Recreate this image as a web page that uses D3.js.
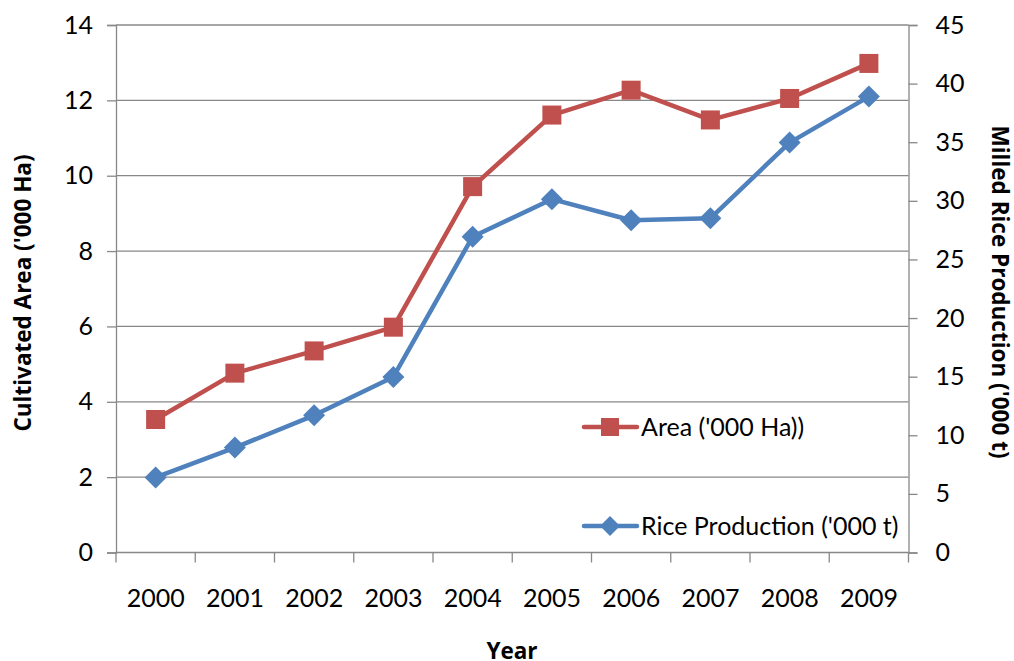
<!DOCTYPE html>
<html>
<head>
<meta charset="utf-8">
<script src="https://cdn.jsdelivr.net/npm/d3@7"></script>
<style>
  html, body { margin: 0; padding: 0; background: #fff; }
  svg { display: block; font-family: Lato, "Open Sans", sans-serif; }
</style>
</head>
<body>
<svg id="chart" width="1014" height="661"></svg>
<script>
// Rice cultivation data, 2000–2009
const years = ["2000", "2001", "2002", "2003", "2004", "2005", "2006", "2007", "2008", "2009"];
const areaValues = [3.53, 4.76, 5.35, 5.98, 9.71, 11.61, 12.27, 11.48, 12.05, 12.98];
const productionValues = [6.4, 8.95, 11.7, 14.98, 26.94, 30.14, 28.34, 28.51, 34.97, 38.89];
const leftTicks = [0, 2, 4, 6, 8, 10, 12, 14];
const rightTicks = [0, 5, 10, 15, 20, 25, 30, 35, 40, 45];

const areaColor = "#C0504D";
const prodColor = "#4F81BD";
const gridColor = "#888888";
const titleFont = "'Open Sans', Lato, sans-serif";

const svg = d3.select("#chart");
const margin = { left: 116, right: 1014 - 908.5, top: 25, bottom: 661 - 552.5 };
const x0 = margin.left, x1 = 1014 - margin.right;
const yTop = margin.top, yBot = 661 - margin.bottom;

const x = d3.scaleBand().domain(years).range([x0, x1]).padding(0);
const yL = d3.scaleLinear().domain([0, 14]).range([yBot, yTop]);
const yR = d3.scaleLinear().domain([0, 45]).range([yBot, yTop]);

// horizontal gridlines at left-axis ticks
svg.append("g")
  .selectAll("line")
  .data(leftTicks.filter(d => d > 0))
  .join("line")
  .attr("x1", x0).attr("x2", x1)
  .attr("y1", d => yL(d)).attr("y2", d => yL(d))
  .attr("stroke", gridColor).attr("stroke-width", 1.3);

// left axis
const leftAxis = svg.append("g")
  .attr("transform", `translate(${x0},0)`)
  .call(d3.axisLeft(yL).tickValues(leftTicks).tickSize(9).tickPadding(14));
// right axis
const rightAxis = svg.append("g")
  .attr("transform", `translate(${x1},0)`)
  .call(d3.axisRight(yR).tickValues(rightTicks).tickSize(9).tickPadding(18));
// bottom axis: ticks at category boundaries
const bottomAxis = svg.append("g")
  .attr("transform", `translate(0,${yBot})`)
  .call(d3.axisBottom(x).tickSize(0).tickPadding(37));
svg.append("g")
  .selectAll("line")
  .data(d3.range(years.length + 1))
  .join("line")
  .attr("x1", i => x0 + i * x.step()).attr("x2", i => x0 + i * x.step())
  .attr("y1", yBot).attr("y2", yBot + 10)
  .attr("stroke", gridColor).attr("stroke-width", 1.3);

[leftAxis, rightAxis, bottomAxis].forEach(g => {
  g.select(".domain").attr("stroke", gridColor).attr("stroke-width", 1.3);
  g.selectAll(".tick line").attr("stroke", gridColor).attr("stroke-width", 1.3);
  g.selectAll("text")
    .attr("font-family", "Lato, 'Open Sans', sans-serif")
    .attr("font-size", 25).attr("fill", "#000");
});
bottomAxis.select(".domain").attr("d", `M${x0},0H${x1}`);

const cx = d => x(d) + x.bandwidth() / 2;

// Area series (left axis)
const areaLine = d3.line().x((d, i) => cx(years[i])).y(d => yL(d));
svg.append("path").datum(areaValues)
  .attr("d", areaLine).attr("fill", "none")
  .attr("stroke", areaColor).attr("stroke-width", 4.5).attr("stroke-linejoin", "round");
svg.append("g").selectAll("rect").data(areaValues).join("rect")
  .attr("x", (d, i) => cx(years[i]) - 9.5).attr("y", d => yL(d) - 9.5)
  .attr("width", 19).attr("height", 19).attr("fill", areaColor);

// Rice production series (right axis)
const prodLine = d3.line().x((d, i) => cx(years[i])).y(d => yR(d));
svg.append("path").datum(productionValues)
  .attr("d", prodLine).attr("fill", "none")
  .attr("stroke", prodColor).attr("stroke-width", 4.5).attr("stroke-linejoin", "round");
const diamond = s => `M0,${-s}L${s},0L0,${s}L${-s},0Z`;
svg.append("g").selectAll("path").data(productionValues).join("path")
  .attr("transform", (d, i) => `translate(${cx(years[i])},${yR(d)})`)
  .attr("d", diamond(11)).attr("fill", prodColor);

// legend
const legendItems = [
  { label: "Area ('000 Ha))", color: areaColor, marker: "square", y: 427 },
  { label: "Rice Production ('000 t)", color: prodColor, marker: "diamond", y: 526 }
];
const lg = svg.append("g");
legendItems.forEach(it => {
  const g = lg.append("g").attr("transform", `translate(0,${it.y})`);
  g.append("line").attr("x1", 584).attr("x2", 637).attr("y1", 0).attr("y2", 0)
    .attr("stroke", it.color).attr("stroke-width", 4.5).attr("stroke-linecap", "round");
  if (it.marker === "square") {
    g.append("rect").attr("x", 601).attr("y", -9).attr("width", 18).attr("height", 18).attr("fill", it.color);
  } else {
    g.append("path").attr("transform", "translate(610,0)").attr("d", diamond(10)).attr("fill", it.color);
  }
  g.append("text").attr("x", 641).attr("y", 0).attr("dy", "0.35em")
    .attr("font-size", 25).attr("fill", "#000").text(it.label);
});

// axis titles
svg.append("text")
  .attr("transform", `translate(31,293) rotate(-90)`)
  .attr("text-anchor", "middle").attr("font-weight", "bold").attr("font-size", 22.5)
  .attr("font-family", titleFont)
  .text("Cultivated Area ('000 Ha)");
svg.append("text")
  .attr("transform", `translate(992,292) rotate(90)`)
  .attr("text-anchor", "middle").attr("font-weight", "bold").attr("font-size", 22.5)
  .attr("font-family", titleFont)
  .text("Milled Rice Production ('000 t)");
svg.append("text")
  .attr("x", 512).attr("y", 659)
  .attr("text-anchor", "middle").attr("font-weight", "bold").attr("font-size", 22.5)
  .attr("font-family", titleFont)
  .text("Year");
</script>
</body>
</html>
